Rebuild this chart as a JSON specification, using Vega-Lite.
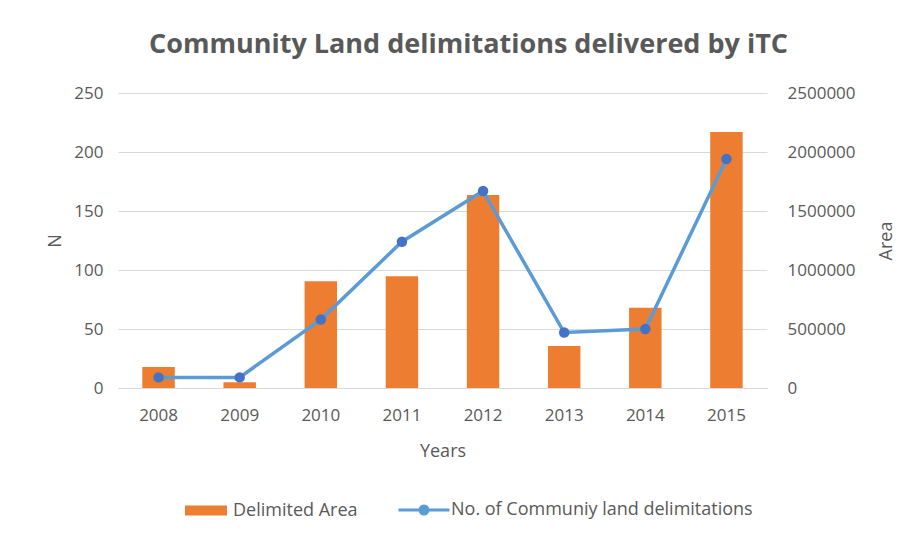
{
  "$schema": "https://vega.github.io/schema/vega-lite/v6.json",
  "autosize": {"type": "none"},
  "width": 649,
  "height": 295,
  "padding": {"left": 118, "top": 93, "right": 143, "bottom": 150},
  "background": "white",
  "config": {
    "view": {"stroke": null},
    "font": "Open Sans",
    "axis": {"labelColor": "#595959", "titleColor": "#595959", "labelFontSize": 17, "titleFontSize": 18, "titleFontWeight": "normal", "ticks": false, "domain": false}
  },
  "title": {"text": "Community Land delimitations delivered by iTC", "fontSize": 27, "fontWeight": "bold", "color": "#595959", "font": "Open Sans", "anchor": "middle", "offset": 25, "dx": 26},
  "data": {"values": [
    {"year": "2008", "N": 9, "Area": 178000},
    {"year": "2009", "N": 9, "Area": 48000},
    {"year": "2010", "N": 58, "Area": 904000},
    {"year": "2011", "N": 124, "Area": 946000},
    {"year": "2012", "N": 167, "Area": 1636000},
    {"year": "2013", "N": 47, "Area": 356000},
    {"year": "2014", "N": 50, "Area": 680000},
    {"year": "2015", "N": 194, "Area": 2170000}
  ]},
  "encoding": {
    "x": {"field": "year", "type": "ordinal", "title": "Years",
      "scale": {"paddingInner": 0.6, "paddingOuter": 0.3},
      "axis": {"labelAngle": 0, "labelPadding": 19, "titlePadding": 19, "domain": true, "domainColor": "#d9d9d9", "grid": false}}
  },
  "layer": [
    {
      "mark": {"type": "bar", "color": "#ED7D31"},
      "encoding": {
        "y": {"field": "Area", "type": "quantitative", "title": "Area",
          "scale": {"domain": [0, 2500000], "nice": false},
          "axis": {"orient": "right", "grid": false, "values": [0, 500000, 1000000, 1500000, 2000000, 2500000], "format": "d", "labelPadding": 20, "titlePadding": 40, "titleAngle": 270}},
        "color": {"datum": "Delimited Area", "type": "nominal",
          "scale": {"domain": ["Delimited Area", "No. of Communiy land delimitations"], "range": ["#ED7D31", "#5B9BD5"]},
          "legend": {
            "title": null, "orient": "none", "direction": "horizontal", "legendX": 79, "legendY": 408,
            "labelFontSize": 18, "labelColor": "#595959", "labelOffset": 18, "columnPadding": 34, "labelLimit": 500,
            "symbolSize": 400,
            "encode": {"symbols": {"update": {
              "shape": {"signal": "datum.value == 'Delimited Area' ? 'M-2.1,-0.5H2.1V0.5H-2.1Z' : 'M-2.55,0H2.55M0.4,0A0.4,0.4 0 1,1 -0.4,0A0.4,0.4 0 1,1 0.4,0Z'"},
              "fill": {"signal": "datum.value == 'Delimited Area' ? '#ED7D31' : '#4472C4'"},
              "stroke": {"signal": "datum.value == 'Delimited Area' ? '#ED7D31' : '#5B9BD5'"},
              "strokeWidth": {"signal": "datum.value == 'Delimited Area' ? 0 : 3"},
              "opacity": {"value": 1}
            }}}
          }}
      }
    },
    {
      "mark": {"type": "line", "strokeWidth": 3.5},
      "encoding": {
        "y": {"field": "N", "type": "quantitative", "title": "N",
          "scale": {"domain": [0, 250], "nice": false},
          "axis": {"orient": "left", "grid": true, "gridColor": "#d9d9d9", "values": [0, 50, 100, 150, 200, 250], "labelPadding": 15, "titlePadding": 9}},
        "color": {"datum": "No. of Communiy land delimitations", "type": "nominal"}
      }
    },
    {
      "mark": {"type": "point", "filled": true, "size": 110, "color": "#4472C4", "opacity": 1},
      "encoding": {
        "y": {"field": "N", "type": "quantitative", "scale": {"domain": [0, 250], "nice": false}, "axis": null}
      }
    }
  ],
  "resolve": {"scale": {"y": "independent"}}
}
